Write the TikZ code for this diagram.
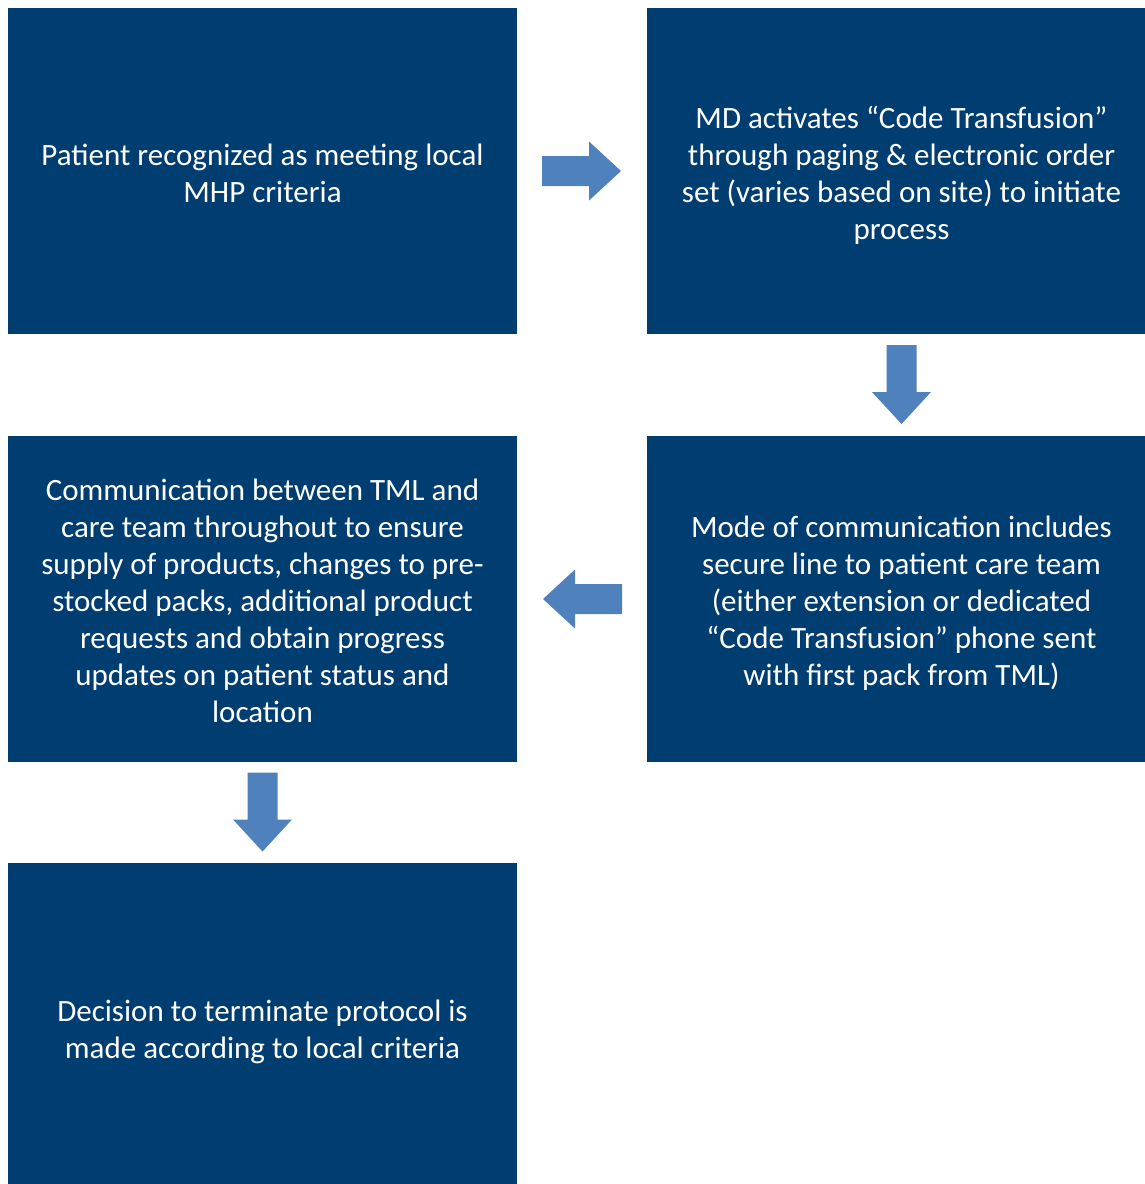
\documentclass[tikz,border=0pt]{standalone}
\usepackage{fontspec}
\setmainfont{Carlito}
\usetikzlibrary{calc}
\definecolor{boxblue}{RGB}{0,61,113}
\definecolor{arrowblue}{RGB}{79,129,189}
\tikzset{
  stepbox/.style={fill=boxblue, draw=none,
    minimum width=509pt, minimum height=326pt, inner sep=0pt},
  steptext/.style={text=white, align=center, inner sep=0pt,
    font=\fontsize{31pt}{37pt}\selectfont},
  blockarrow/.style={fill=arrowblue, draw=none}
}
\begin{document}
\begin{tikzpicture}[x=1pt,y=-1pt]
\useasboundingbox (0,0) rectangle (1145,1184);
\clip (0,0) rectangle (1145,1184);
\fill[white] (0,0) rectangle (1145,1184);
\node[stepbox] (b1) at (262.5,171) {};
\node[stepbox] (b2) at (901.5,171) {};
\node[stepbox] (b3) at (901.5,599) {};
\node[stepbox] (b4) at (262.5,599) {};
\node[stepbox] (b5) at (262.5,1026) {};
\node[steptext] (t1) at ([yshift=-2pt]b1.center) {Patient recognized as meeting local\\MHP criteria};
\node[steptext] (t2) at ([yshift=-4.5pt]b2.center) {MD activates “Code Transfusion”\\through paging \& electronic order\\set (varies based on site) to initiate\\process};
\node[steptext] (t3) at ([yshift=-4pt]b3.center) {Mode of communication includes\\secure line to patient care team\\(either extension or dedicated\\“Code Transfusion” phone sent\\with first pack from TML)};
\node[steptext] (t4) at ([yshift=-2pt]b4.center) {Communication between TML and\\care team throughout to ensure\\supply of products, changes to pre-\\stocked packs, additional product\\requests and obtain progress\\updates on patient status and\\location};
\node[steptext] (t5) at ([yshift=-6pt]b5.center) {Decision to terminate protocol is\\made according to local criteria};
% right arrow b1 -> b2
\fill[blockarrow, shift={($(b1.east)!0.5!(b2.west)$)}]
  (-40,-15) -- (7,-15) -- (7,-29.5) -- (39,0) -- (7,29.5) -- (7,15) -- (-40,15) -- cycle;
% down arrow b2 -> b3
\fill[blockarrow, shift={($(b2.south)!0.5!(b3.north)$)}]
  (-15,-40) -- (15,-40) -- (15,7) -- (29.5,7) -- (0,39) -- (-29.5,7) -- (-15,7) -- cycle;
% left arrow b3 -> b4
\fill[blockarrow, shift={($(b3.west)!0.5!(b4.east)$)}]
  (40,-15) -- (-7,-15) -- (-7,-29.5) -- (-39,0) -- (-7,29.5) -- (-7,15) -- (40,15) -- cycle;
% down arrow b4 -> b5
\fill[blockarrow, shift={($(b4.south)!0.5!(b5.north)$)}]
  (-15,-40) -- (15,-40) -- (15,7) -- (29.5,7) -- (0,39) -- (-29.5,7) -- (-15,7) -- cycle;
\end{tikzpicture}
\end{document}
